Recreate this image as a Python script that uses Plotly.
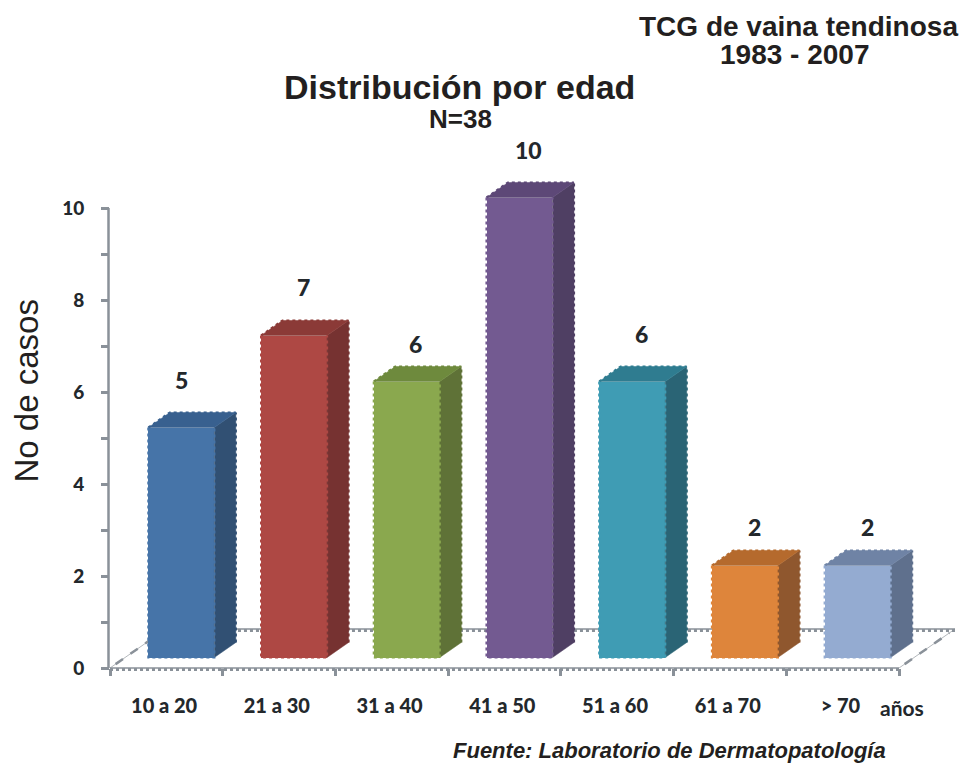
import plotly.graph_objects as go

categories = ["10 a 20", "21 a 30", "31 a 40", "41 a 50", "51 a 60", "61 a 70", "> 70"]
values = [5, 7, 6, 10, 6, 2, 2]
y_ticks = [0, 2, 4, 6, 8, 10]
front_colors = ["#4674A8", "#AE4844", "#8AA84E", "#735A91", "#3F9CB4", "#DE853B", "#94ABD1"]
top_colors = ["#38608F", "#8B3A37", "#6E8A3D", "#5D4877", "#2F7C90", "#B56A2D", "#6F83A5"]
side_colors = ["#315073", "#763231", "#5F7237", "#4F3F63", "#2A6475", "#8F572E", "#5F708D"]

W, H = 961, 763
L, R, T, B = 109.5, 899, 208, 668
PX_X = (R - L) / 7
PX_Y = (B - T) / 10
PLOT_W = W - L
PLOT_H = B

bar_shift = 15 / PX_X
bar_w = 66 / PX_X
base = 10.5 / PX_Y
dx = 21.5 / PX_X
dy = 15 / PX_Y
floor_dx = 56 / PX_X
floor_dy = 39 / PX_Y
AXIS = "#8A9199"
INK = "#23282C"

label_dx = [0, 9, 9, 9, 9, 10, 10]
label_dy = [48, 49, 38, 48, 48, 39, 39]

fig = go.Figure()
shapes = []

def poly(xs, ys, color, dotted=False):
    fig.add_trace(go.Scatter(
        x=xs, y=ys, mode="lines", fill="toself" if not dotted else None,
        fillcolor=color, hoverinfo="skip", showlegend=False,
        line=dict(color=color, width=2.2 if dotted else 0.5, dash="dot" if dotted else "solid"),
    ))

def floor_line(xa, ya, xb, yb, color=AXIS, width=3, dash="dot"):
    shapes.append(dict(type="line", layer="below", xref="x", yref="y", x0=xa, y0=ya, x1=xb, y1=yb,
                       line=dict(color=color, width=width, dash=dash)))

def axis_line(xa, ya, xb, yb, width, dash):
    # pixel offsets from the origin of the axes, placed in paper space so they are not clipped
    shapes.append(dict(type="line", layer="above", xref="paper", yref="paper",
                       x0=xa / PLOT_W, y0=ya / PLOT_H, x1=xb / PLOT_W, y1=yb / PLOT_H,
                       line=dict(color=AXIS, width=width, dash=dash)))

x0, x1 = -0.5, 6.5
# floor edges
floor_line(x0, 0, x0 + floor_dx, floor_dy, "#B4B8BC", 1, "solid")
floor_line(x1, 0, x1 + floor_dx, floor_dy, "#B4B8BC", 1, "solid")
floor_line(x0 + floor_dx * 0.1, floor_dy * 0.1, x0 + floor_dx * 0.9, floor_dy * 0.9, AXIS, 2.5, "dash")
floor_line(x1 + floor_dx * 0.1, floor_dy * 0.1, x1 + floor_dx * 0.9, floor_dy * 0.9, AXIS, 2.5, "dash")
floor_line(x0 + floor_dx, floor_dy, x1 + floor_dx, floor_dy, AXIS, 1.5, "solid")
floor_line(x0 + floor_dx, floor_dy - 1.5 / PX_Y, x1 + floor_dx, floor_dy - 1.5 / PX_Y, AXIS, 3)
# axes
axis_line(0, 0, R - L, 0, 1.5, "solid")
axis_line(0, -1.5, R - L, -1.5, 3, "dot")
axis_line(-1.5, 0, -1.5, B - T, 2.5, "solid")

# bars
for i, v in enumerate(values):
    l = i + bar_shift - bar_w / 2
    r = l + bar_w
    b = base
    t = base + v
    poly([r, r + dx, r + dx, r, r], [b, b + dy, t + dy, t, b], side_colors[i])
    poly([l, l + dx, r + dx, r, l], [t, t + dy, t + dy, t, t], top_colors[i])
    poly([r + dx, r + dx], [b + dy, t + dy], side_colors[i], True)
    poly([l, l + dx, r + dx], [t, t + dy, t + dy], top_colors[i], True)
    poly([l, l, r, r], [t, b, b, t], front_colors[i], True)

fig.add_trace(go.Bar(
    x=[i + bar_shift for i in range(len(values))], y=values, base=base, width=bar_w,
    marker=dict(color=front_colors, line=dict(width=0)),
    showlegend=False, hoverinfo="skip",
))

annotations = []
for i, v in enumerate(values):
    annotations.append(dict(
        x=i + bar_shift, y=v + base, xref="x", yref="y", text=str(v), showarrow=False,
        xshift=label_dx[i], yshift=label_dy[i],
        font=dict(family="Lato", size=23, color=INK, weight=900),
    ))

def px_text(x, y, text, size, family="Liberation Sans", color="#231F20", bold=True, italic=False,
            anchor="center", angle=0):
    annotations.append(dict(
        x=(x - L) / PLOT_W, y=(B - y) / PLOT_H, xref="paper", yref="paper", text=text,
        showarrow=False, xanchor=anchor, yanchor="middle", textangle=angle,
        font=dict(family=family, size=size, color=color, weight="bold" if bold else "normal",
                  style="italic" if italic else "normal"),
    ))

px_text(798, 26, "TCG de vaina tendinosa", 28)
px_text(794, 54, "1983 - 2007", 28)
px_text(459, 87, "Distribución por edad", 34)
px_text(460, 119, "N=38", 26)
px_text(25, 391, "No de casos", 33, bold=False, angle=-90)
px_text(669, 750, "Fuente: Laboratorio de Dermatopatología", 22, italic=True)
px_text(902, 707, "años", 21, family="Lato", color=INK)

fig.update_layout(
    width=W, height=H,
    margin=dict(l=L, r=0, t=0, b=H - B, pad=0),
    paper_bgcolor="white", plot_bgcolor="white",
    showlegend=False, annotations=annotations, shapes=shapes, bargap=0,
    xaxis=dict(
        range=[-0.5, -0.5 + PLOT_W / PX_X],
        tickvals=[i - 0.02 for i in range(len(categories))], ticktext=categories,
        ticks="", showgrid=False, zeroline=False, showline=False,
        ticklabelstandoff=24,
        tickfont=dict(family="Lato", size=20, color=INK, weight=900),
        minor=dict(tickvals=[i - 0.5 for i in range(len(categories) + 1)], ticks="outside",
                   ticklen=7, tickwidth=3, tickcolor=AXIS),
    ),
    yaxis=dict(
        range=[0, PLOT_H / PX_Y], tickvals=y_ticks, ticks="outside", ticklen=8, tickwidth=2.5, tickcolor=AXIS,
        showgrid=False, zeroline=False, showline=False,
        ticklabelstandoff=13,
        tickfont=dict(family="Lato", size=19, color=INK, weight=900),
        minor=dict(tickvals=[i for i in range(11)], ticks="outside", ticklen=8, tickwidth=2.5,
                   tickcolor=AXIS, showgrid=False),
    ),
)

fig.write_html("out.html", config=dict(displayModeBar=False),
               post_script="document.body.style.margin='0';")
